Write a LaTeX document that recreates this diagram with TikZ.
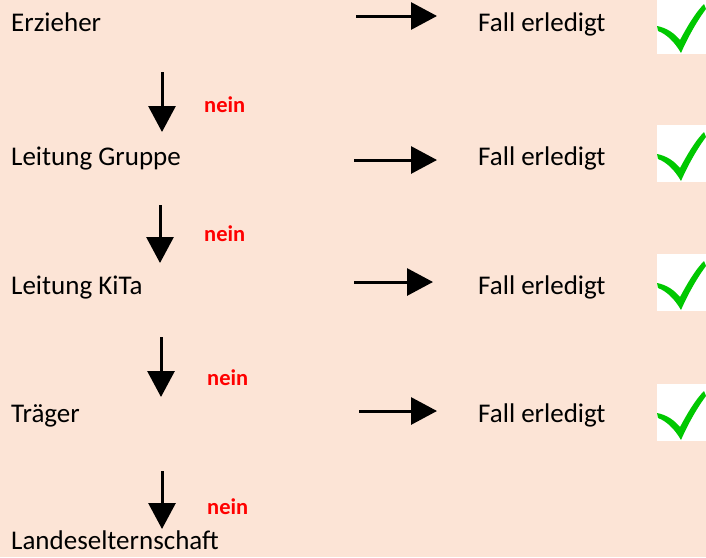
\documentclass[tikz,border=0pt]{standalone}
\usepackage{fontspec}
\setmainfont{Carlito}
\usetikzlibrary{arrows.meta}
\definecolor{peach}{RGB}{252,228,214}
\definecolor{chk}{RGB}{0,200,0}
\begin{document}
\begin{tikzpicture}[x=1pt,y=-1pt,
  lbl/.style={anchor=base west,inner sep=0pt,font=\fontsize{27}{32}\selectfont},
  neinlbl/.style={anchor=base west,inner sep=0pt,text=red,font=\fontsize{22.5}{27}\selectfont\bfseries},
  arr/.style={line width=3pt,-{Triangle[length=26pt,width=27pt]}},
  chkbox/.style={fill=white,draw=none},
  chkmark/.style={fill=chk,draw=none}]
\fill[peach] (0,0) rectangle (706,557);
\useasboundingbox (0,0) rectangle (706,557);
% left labels
\node[lbl] (erz) at (11,31) {Erzieher};
\node[lbl] (lg) at (11,165) {Leitung Gruppe};
\node[lbl] (lk) at (11,294) {Leitung KiTa};
\node[lbl] (tr) at (11,422) {Träger};
\node[lbl] (les) at (11,549) {Landeselternschaft};
% right labels
\node[lbl] (f1) at (478,31) {Fall erledigt};
\node[lbl] (f2) at (478,165) {Fall erledigt};
\node[lbl] (f3) at (478,294) {Fall erledigt};
\node[lbl] (f4) at (478,422) {Fall erledigt};
% nein labels
\node[neinlbl] (n1) at (204,112) {nein};
\node[neinlbl] (n2) at (204,241) {nein};
\node[neinlbl] (n3) at (207,385) {nein};
\node[neinlbl] (n4) at (207,514) {nein};
% horizontal arrows
\coordinate (h1s) at (356,16); \coordinate (h1e) at (437,16);
\coordinate (h2s) at (354,160); \coordinate (h2e) at (437,160);
\coordinate (h3s) at (354,282); \coordinate (h3e) at (433,282);
\coordinate (h4s) at (359,411); \coordinate (h4e) at (437,411);
\draw[arr] (h1s) -- (h1e);
\draw[arr] (h2s) -- (h2e);
\draw[arr] (h3s) -- (h3e);
\draw[arr] (h4s) -- (h4e);
% vertical arrows
\coordinate (v1s) at (162,72); \coordinate (v1e) at (162,132);
\coordinate (v2s) at (160,205); \coordinate (v2e) at (160,263);
\coordinate (v3s) at (161,337); \coordinate (v3e) at (161,397);
\coordinate (v4s) at (162,471); \coordinate (v4e) at (162,529);
\draw[arr] (v1s) -- (v1e);
\draw[arr] (v2s) -- (v2e);
\draw[arr] (v3s) -- (v3e);
\draw[arr] (v4s) -- (v4e);
% check marks
\foreach \t in {27,155,284,414}{
  \begin{scope}[shift={(657,\t)}]
  \fill[chkbox] (0,-30) rectangle (49,27);
  \fill[chkmark] (0,-1) .. controls (10,1) and (17,6) .. (23,13)
     .. controls (30,0) and (38,-14) .. (47,-23) -- (49,-18)
     .. controls (40,-6) and (31,10) .. (24,26)
     .. controls (17,14) and (9,7) .. (1,4) -- cycle;
  \end{scope}
}
\end{tikzpicture}
\end{document}
